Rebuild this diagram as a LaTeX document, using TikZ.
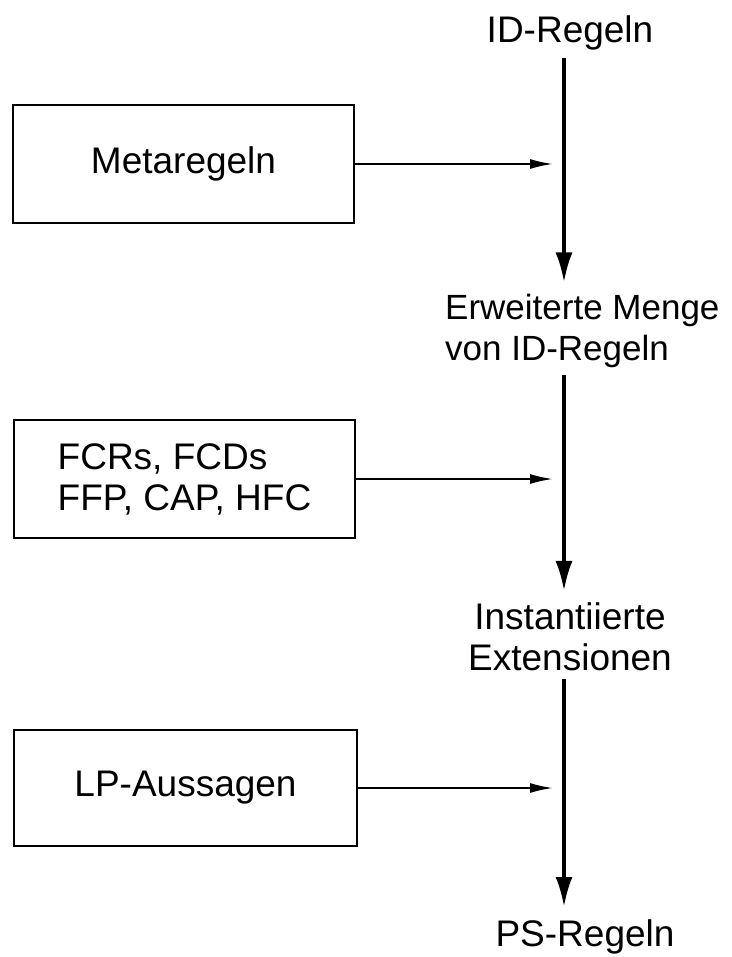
\documentclass[tikz,border=0pt]{standalone}
\usepackage{fontspec}
\setmainfont{Liberation Sans}
\usetikzlibrary{arrows.meta}

\tikzset{
  rulebox/.style={draw,line width=2.2pt,minimum width=341pt,minimum height=118pt,
    inner sep=0pt,align=left},
  steplabel/.style={inner sep=0pt},
  spinearrow/.style={line width=3.5pt,-{Latex[length=30pt,width=17pt]}},
  feedarrow/.style={line width=2pt,-{Latex[length=23pt,width=10pt]}}
}

\begin{document}
\begin{tikzpicture}[x=1pt,y=-1pt,font=\fontsize{37}{41}\selectfont]
      \useasboundingbox (0,0) rectangle (731,957);
      \coordinate (spine) at (564,0);
      % Stufen rechts
      \node[steplabel,anchor=base] (id) at (570,43) {ID-Regeln};
      \node[steplabel,anchor=base west,align=left,font=\fontsize{35}{41}\selectfont]
        (erw) at (445,360) {Erweiterte Menge\\von ID-Regeln};
      \node[steplabel,anchor=base,align=center] (inst) at (570,670)
        {Instantiierte\\Extensionen};
      \node[steplabel,anchor=base] (ps) at (585,946) {PS-Regeln};
      % Kaesten links
      \node[rulebox] (meta) at (183.5,164) {Metaregeln};
      \node[rulebox] (fcr) at (184.5,479) {FCRs, FCDs\\FFP, CAP, HFC};
      \node[rulebox,minimum width=343pt,minimum height=116pt] (lp) at (185.5,788)
        {LP-Aussagen};
      % Hauptpfeile
      \draw[spinearrow,shorten <=7pt,shorten >=11pt] (id.south -| spine) -- (erw.north -| spine);
      \draw[spinearrow,shorten <=8pt,shorten >=11pt] (erw.south -| spine) -- (inst.north -| spine);
      \draw[spinearrow,shorten <=8pt,shorten >=12pt] (inst.south -| spine) -- (ps.north -| spine);
      % Zufluesse
      \foreach \src in {meta,fcr,lp}
        \draw[feedarrow,shorten >=11pt] (\src.east) -- (\src.east -| spine);
    \end{tikzpicture}
\end{document}
